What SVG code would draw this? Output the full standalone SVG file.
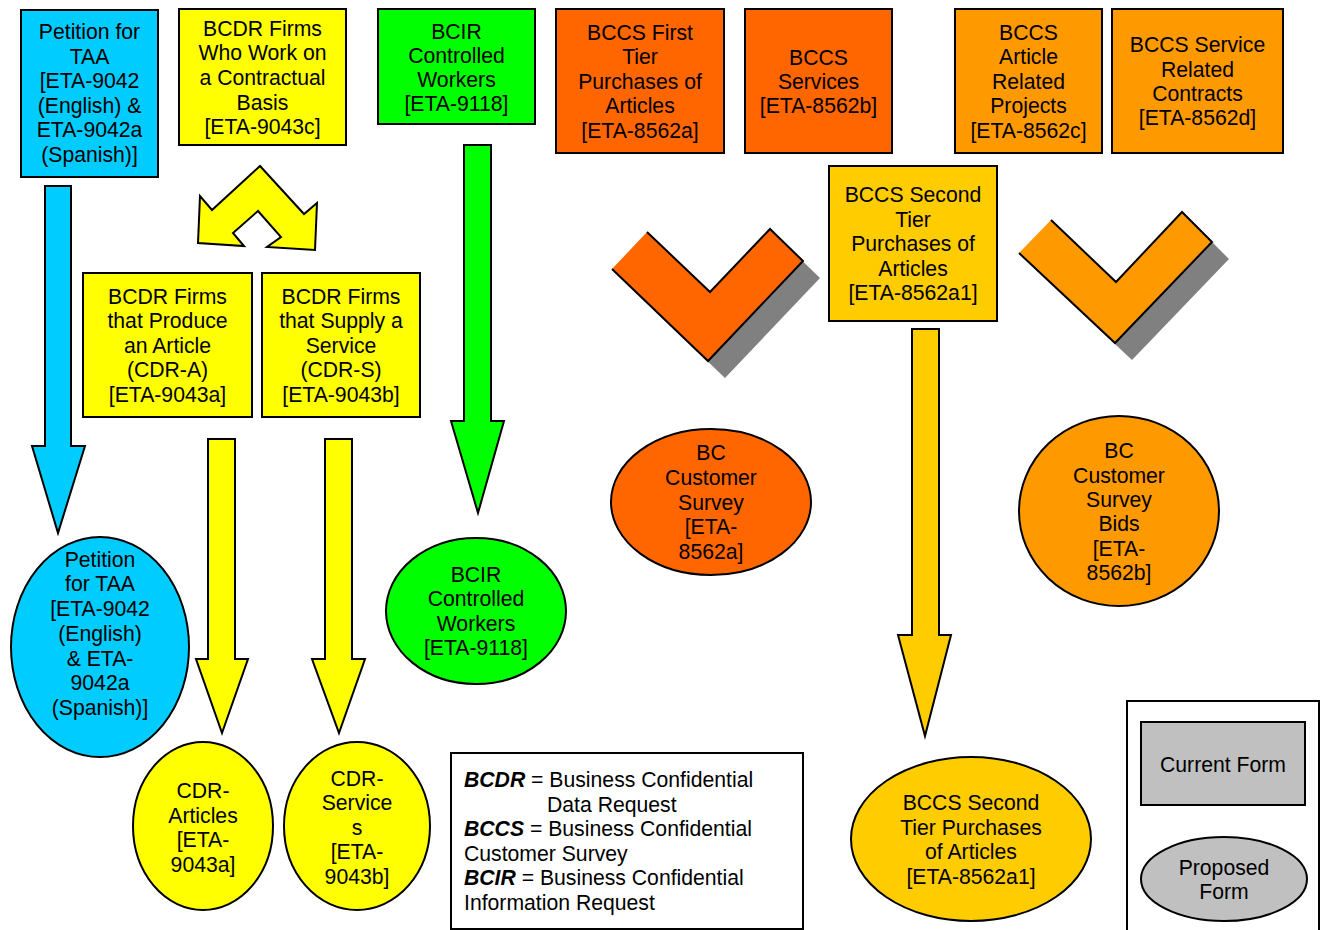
<svg xmlns="http://www.w3.org/2000/svg" width="1321" height="930" viewBox="0 0 1321 930">
<style>
text{font-family:"Liberation Sans",Arial,sans-serif;font-size:21.2px;fill:#000;text-anchor:middle}
.n{stroke:#000;stroke-width:2}
.a{stroke:#000;stroke-width:2;stroke-linejoin:miter}
.blue{fill:#00ccff}.yel{fill:#ffff00}.grn{fill:#00ff00}.org{fill:#ff6600}.lor{fill:#ff9900}.gld{fill:#ffcc00}.gry{fill:#c0c0c0}
.lg{text-anchor:start}
</style>
<rect width="1321" height="930" fill="#fff"/>
<g id="connectors">
<polygon class="a blue" points="45,186 71,186 71,446 85,446 58,533 32,446 45,446"/>
<polygon class="a yel" points="208,439 235,439 235,659 248,659 222,733 196,659 208,659"/>
<polygon class="a yel" points="325,439 352,439 352,659 365,659 339,733 312,659 325,659"/>
<polygon class="a grn" points="464,145 491,145 491,421 504,421 478,513 451,421 464,421"/>
<polygon class="a gld" points="912,329 939,329 939,635 951,635 925,736 898,635 912,635"/>
<polygon class="a yel" points="260,166 304,214 317,203 315,250 267,247 281,237 258,211 233,233 244,246 198,243 200,196 212,210"/>
<g id="chevron1">
<polygon fill="#808080" points="629,286 664,249 727,309 787,246 820,278 725,378"/>
<polygon class="org" points="612,269 647,232 710,292 770,229 803,261 708,361"/>
<polyline fill="none" stroke="#000" stroke-width="2" points="647,232 710,292 770,229 803,261 708,361 612,269"/>
</g>
<g id="chevron2">
<polygon fill="#808080" points="1036,270 1068,237 1133,299 1199,229 1229,259 1132,360"/>
<polygon class="lor" points="1019,253 1051,220 1116,282 1182,212 1212,242 1115,343"/>
<polyline fill="none" stroke="#000" stroke-width="2" points="1051,220 1116,282 1182,212 1212,242 1115,343 1019,253"/>
</g>
</g>
<g id="n-petition">
<rect class="n blue" x="21" y="10" width="137" height="167"/>
<text x="89.5"><tspan x="89.5" y="39">Petition for</tspan><tspan x="89.5" y="64">TAA</tspan><tspan x="89.5" y="88">[ETA-9042</tspan><tspan x="89.5" y="113">(English) &amp;</tspan><tspan x="89.5" y="137">ETA-9042a</tspan><tspan x="89.5" y="162">(Spanish)]</tspan></text>
</g>
<g id="n-bcdr-contract">
<rect class="n yel" x="179" y="9" width="167" height="136"/>
<text><tspan x="262.5" y="36">BCDR Firms</tspan><tspan x="262.5" y="60">Who Work on</tspan><tspan x="262.5" y="85">a Contractual</tspan><tspan x="262.5" y="110">Basis</tspan><tspan x="262.5" y="134">[ETA-9043c]</tspan></text>
</g>
<g id="n-bcir">
<rect class="n grn" x="378" y="9" width="157" height="115"/>
<text><tspan x="456.5" y="39">BCIR</tspan><tspan x="456.5" y="63">Controlled</tspan><tspan x="456.5" y="87">Workers</tspan><tspan x="456.5" y="111">[ETA-9118]</tspan></text>
</g>
<g id="n-bccs-first">
<rect class="n org" x="556" y="9" width="168" height="144"/>
<text><tspan x="640" y="40">BCCS First</tspan><tspan x="640" y="64">Tier</tspan><tspan x="640" y="89">Purchases of</tspan><tspan x="640" y="113">Articles</tspan><tspan x="640" y="138">[ETA-8562a]</tspan></text>
</g>
<g id="n-bccs-services">
<rect class="n org" x="745" y="9" width="147" height="144"/>
<text><tspan x="818.5" y="65">BCCS</tspan><tspan x="818.5" y="89">Services</tspan><tspan x="818.5" y="113">[ETA-8562b]</tspan></text>
</g>
<g id="n-bccs-article">
<rect class="n lor" x="955" y="9" width="147" height="144"/>
<text><tspan x="1028.5" y="40">BCCS</tspan><tspan x="1028.5" y="64">Article</tspan><tspan x="1028.5" y="89">Related</tspan><tspan x="1028.5" y="113">Projects</tspan><tspan x="1028.5" y="138">[ETA-8562c]</tspan></text>
</g>
<g id="n-bccs-service-contracts">
<rect class="n lor" x="1112" y="9" width="171" height="144"/>
<text><tspan x="1197.5" y="52">BCCS Service</tspan><tspan x="1197.5" y="77">Related</tspan><tspan x="1197.5" y="101">Contracts</tspan><tspan x="1197.5" y="125">[ETA-8562d]</tspan></text>
</g>
<g id="n-bccs-second">
<rect class="n gld" x="829" y="166" width="168" height="155"/>
<text><tspan x="913" y="202">BCCS Second</tspan><tspan x="913" y="227">Tier</tspan><tspan x="913" y="251">Purchases of</tspan><tspan x="913" y="276">Articles</tspan><tspan x="913" y="300">[ETA-8562a1]</tspan></text>
</g>
<g id="n-cdr-a">
<rect class="n yel" x="83" y="273" width="169" height="144"/>
<text><tspan x="167.5" y="304">BCDR Firms</tspan><tspan x="167.5" y="328">that Produce</tspan><tspan x="167.5" y="353">an Article</tspan><tspan x="167.5" y="377">(CDR-A)</tspan><tspan x="167.5" y="402">[ETA-9043a]</tspan></text>
</g>
<g id="n-cdr-s">
<rect class="n yel" x="262" y="273" width="158" height="144"/>
<text><tspan x="341" y="304">BCDR Firms</tspan><tspan x="341" y="328">that Supply a</tspan><tspan x="341" y="353">Service</tspan><tspan x="341" y="377">(CDR-S)</tspan><tspan x="341" y="402">[ETA-9043b]</tspan></text>
</g>
<g id="e-petition">
<ellipse class="n blue" cx="100" cy="647" rx="89" ry="110"/>
<text><tspan x="100" y="567">Petition</tspan><tspan x="100" y="591">for TAA</tspan><tspan x="100" y="616">[ETA-9042</tspan><tspan x="100" y="641">(English)</tspan><tspan x="100" y="666">&amp; ETA-</tspan><tspan x="100" y="690">9042a</tspan><tspan x="100" y="715">(Spanish)]</tspan></text>
</g>
<g id="e-bcir">
<ellipse class="n grn" cx="476" cy="611" rx="90" ry="73"/>
<text><tspan x="476" y="582">BCIR</tspan><tspan x="476" y="606">Controlled</tspan><tspan x="476" y="631">Workers</tspan><tspan x="476" y="655">[ETA-9118]</tspan></text>
</g>
<g id="e-cdr-articles">
<ellipse class="n yel" cx="203" cy="826" rx="70" ry="84"/>
<text><tspan x="203" y="798">CDR-</tspan><tspan x="203" y="823">Articles</tspan><tspan x="203" y="847">[ETA-</tspan><tspan x="203" y="872">9043a]</tspan></text>
</g>
<g id="e-cdr-services">
<ellipse class="n yel" cx="357" cy="826" rx="73" ry="84"/>
<text><tspan x="357" y="786">CDR-</tspan><tspan x="357" y="810">Service</tspan><tspan x="357" y="835">s</tspan><tspan x="357" y="859">[ETA-</tspan><tspan x="357" y="884">9043b]</tspan></text>
</g>
<g id="e-bc-survey">
<ellipse class="n org" cx="711" cy="502" rx="100" ry="73"/>
<text><tspan x="711" y="460">BC</tspan><tspan x="711" y="485">Customer</tspan><tspan x="711" y="510">Survey</tspan><tspan x="711" y="534">[ETA-</tspan><tspan x="711" y="559">8562a]</tspan></text>
</g>
<g id="e-bc-bids">
<ellipse class="n lor" cx="1119" cy="511" rx="100" ry="95"/>
<text><tspan x="1119" y="458">BC</tspan><tspan x="1119" y="483">Customer</tspan><tspan x="1119" y="507">Survey</tspan><tspan x="1119" y="531">Bids</tspan><tspan x="1119" y="556">[ETA-</tspan><tspan x="1119" y="580">8562b]</tspan></text>
</g>
<g id="e-bccs-second">
<ellipse class="n gld" cx="971" cy="839" rx="120" ry="82"/>
<text><tspan x="971" y="810">BCCS Second</tspan><tspan x="971" y="835">Tier Purchases</tspan><tspan x="971" y="859">of Articles</tspan><tspan x="971" y="884">[ETA-8562a1]</tspan></text>
</g>
<g id="legend">
<rect class="n" fill="#fff" x="451" y="753" width="352" height="176"/>
<text class="lg" x="464" y="787"><tspan font-weight="bold" font-style="italic">BCDR</tspan> = Business Confidential</text>
<text class="lg" x="547" y="812">Data Request</text>
<text class="lg" x="464" y="836"><tspan font-weight="bold" font-style="italic">BCCS</tspan> = Business Confidential</text>
<text class="lg" x="464" y="861">Customer Survey</text>
<text class="lg" x="464" y="885"><tspan font-weight="bold" font-style="italic">BCIR</tspan> = Business Confidential</text>
<text class="lg" x="464" y="910">Information Request</text>
</g>
<g id="key">
<rect class="n" fill="#fff" x="1127" y="701" width="192" height="235"/>
<rect class="n gry" x="1141" y="722" width="164" height="83"/>
<text x="1223" y="772">Current Form</text>
<ellipse class="n gry" cx="1224" cy="879" rx="83" ry="42"/>
<text><tspan x="1224" y="875">Proposed</tspan><tspan x="1224" y="899">Form</tspan></text>
</g>
</svg>
